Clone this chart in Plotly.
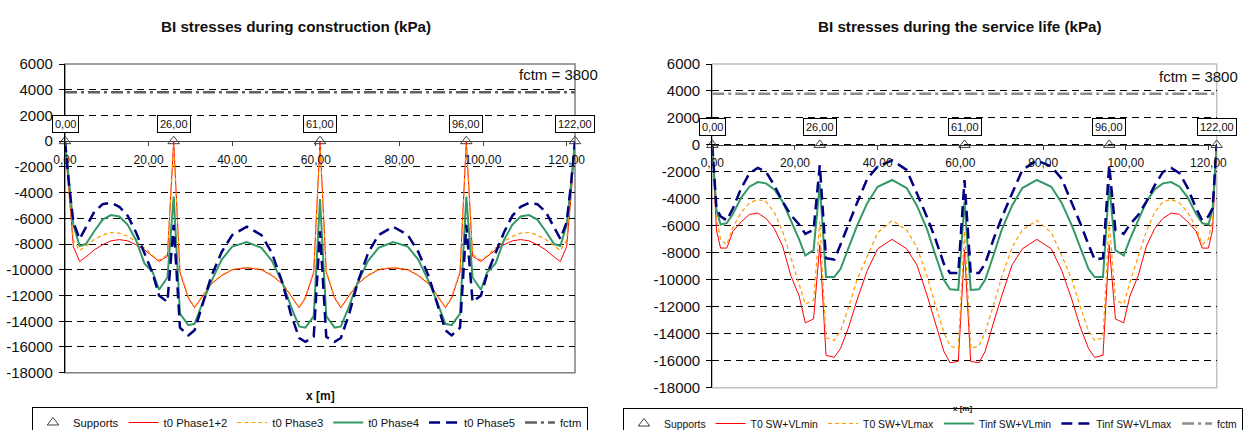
import plotly.graph_objects as go

# ---------------- data ----------------
# stations along the beam [m]
x_m = [0, 1, 2, 3.5, 5, 7, 9, 11, 13, 15, 17, 19, 21, 22.5, 24.5, 26,
       27.5, 29.5, 31, 33, 35, 37.5, 40, 43.5, 47, 49.5, 52, 54, 56, 57.5, 59.5, 61,
       62.5, 64.5, 66, 68, 70, 72.5, 75, 78.5, 82, 84.5, 87, 89, 91, 92.5, 94.5, 96,
       97.5, 99.5, 101, 103, 105, 107, 109, 111, 113, 115, 117, 118.5, 120, 121, 122]

# construction stage stresses [kPa]
t0_phase12 = [0, -4500, -8200, -9350, -9000, -8450, -8050, -7750, -7650, -7750, -8050, -8450, -8950, -9350, -8950, 0,
              -10200, -12200, -12950, -12000, -11100, -10450, -10000, -9850, -10000, -10450, -11100, -12000, -12950, -12200, -10200, 0,
              -10200, -12200, -12950, -12000, -11100, -10450, -10000, -9850, -10000, -10450, -11100, -12000, -12950, -12200, -10200, 0,
              -8950, -9350, -8950, -8450, -8050, -7750, -7650, -7750, -8050, -8450, -9000, -9350, -8200, -4500, 0]
t0_phase3 = [0, -4300, -7700, -8500, -8150, -7650, -7300, -7100, -7150, -7400, -7800, -8300, -8900, -9250, -8800, -300,
             -10100, -12100, -12900, -11950, -11050, -10400, -9950, -9800, -9950, -10400, -11050, -11950, -12900, -12100, -10100, -300,
             -10100, -12100, -12900, -11950, -11050, -10400, -9950, -9800, -9950, -10400, -11050, -11950, -12900, -12100, -10100, -300,
             -8800, -9250, -8900, -8300, -7800, -7400, -7150, -7100, -7300, -7650, -8150, -8500, -7700, -4300, 0]
t0_phase4 = [0, -3500, -6500, -8150, -8000, -7000, -6100, -5750, -5850, -6500, -7700, -9500, -10200, -11550, -10600, -4300,
             -13400, -14300, -14200, -12500, -10900, -9200, -8200, -7850, -8300, -9300, -11000, -12800, -14400, -14500, -13600, -4500,
             -13600, -14500, -14400, -12800, -11000, -9300, -8300, -7850, -8200, -9200, -10900, -12500, -14200, -14300, -13400, -4300,
             -10600, -11550, -10200, -9500, -7700, -6500, -5850, -5750, -6100, -7000, -8000, -8150, -6500, -3500, 0]
t0_phase5 = [0, -3500, -6300, -7600, -6700, -5500, -4900, -4800, -5100, -5800, -7100, -8700, -10300, -12000, -12500, -6500,
             -14500, -15100, -14700, -12600, -10500, -8600, -7300, -6650, -7300, -8700, -11000, -13400, -15300, -15600, -15200, -7000,
             -15200, -15600, -15300, -13400, -11000, -8700, -7300, -6650, -7300, -8600, -10500, -12600, -14700, -15100, -14500, -6500,
             -12500, -12000, -10300, -8700, -7100, -5800, -5100, -4800, -4900, -5500, -6700, -7600, -6300, -3500, 0]

# service life stresses [kPa]
T0_min = [0, -6300, -7650, -7650, -6400, -5700, -5150, -5050, -5450, -6200, -7500, -9700, -11200, -13200, -12900, -7400,
          -15600, -15750, -15100, -13500, -11500, -9300, -7700, -7000, -7700, -8900, -11200, -13200, -15300, -16150, -16050, -7800,
          -16050, -16150, -15300, -13200, -11200, -8900, -7700, -7000, -7700, -9300, -11500, -13500, -15100, -15750, -15600, -7400,
          -12900, -13200, -11200, -9700, -7500, -6200, -5450, -5050, -5150, -5700, -6400, -7650, -7650, -6300, 0]
T0_max = [0, -5500, -7000, -7400, -6100, -5000, -4300, -4050, -4200, -5000, -6400, -8300, -10200, -11800, -11500, -5700,
          -14300, -14500, -13800, -12000, -10000, -8200, -6500, -5600, -6300, -7600, -9800, -11900, -13900, -14900, -15100, -6400,
          -15100, -14900, -13900, -11900, -9800, -7600, -6300, -5600, -6500, -8200, -10000, -12000, -13800, -14500, -14300, -5700,
          -11500, -11800, -10200, -8300, -6400, -5000, -4200, -4050, -4300, -5000, -6100, -7400, -7000, -5500, 0]
Tinf_min = [0, -4800, -5900, -5800, -5100, -3900, -3100, -2750, -2850, -3300, -4200, -5600, -7000, -8200, -7800, -2900,
            -9800, -9800, -9200, -7600, -6000, -4300, -3100, -2600, -3200, -4500, -6300, -8200, -10000, -10700, -10750, -4200,
            -10750, -10700, -10000, -8200, -6300, -4500, -3200, -2600, -3100, -4300, -6000, -7600, -9200, -9800, -9800, -2900,
            -7800, -8200, -7000, -5600, -4200, -3300, -2850, -2750, -3100, -3900, -5100, -5800, -5900, -4800, 0]
Tinf_max = [0, -4700, -5300, -5600, -4700, -3200, -2100, -1700, -2000, -3000, -4200, -5200, -5900, -6600, -6300, -1500,
            -8400, -8500, -7400, -5800, -4300, -2500, -1600, -1150, -1850, -3600, -5400, -7000, -8800, -9500, -9500, -2600,
            -9500, -9500, -8800, -7000, -5400, -3600, -1850, -1150, -1600, -2500, -4300, -5800, -7400, -8500, -8400, -1500,
            -6300, -6600, -5900, -5200, -4200, -3000, -2000, -1700, -2100, -3200, -4700, -5600, -5300, -4700, 0]

supports_x = [0, 26, 61, 96, 122]
supports_y = [0, 0, 0, 0, 0]
supports_lbl = ["0,00", "26,00", "61,00", "96,00", "122,00"]
fctm = 3800

x_tickvals = [0, 20, 40, 60, 80, 100, 120]
x_ticktext = ["0,00", "20,00", "40,00", "60,00", "80,00", "100,00", "120,00"]
y_tickvals = [6000, 4000, 2000, 0, -2000, -4000, -6000, -8000, -10000, -12000, -14000, -16000, -18000]
y_ticktext = ["6000", "4000", "2000", "0", "-2000", "-4000", "-6000", "-8000", "-10000",
              "-12000", "-14000", "-16000", "-18000"]

titles = ["BI stresses during construction (kPa)", "BI stresses during the service life (kPa)"]
names_left = ["t0 Phase1+2", "t0 Phase3", "t0 Phase4", "t0 Phase5"]
names_right = ["T0 SW+VLmin", "T0 SW+VLmax", "Tinf SW+VLmin", "Tinf SW+VLmax"]

# ---------------- layout helpers ----------------
W, H = 1247, 430
FONT = "Liberation Sans, Arial, Helvetica, sans-serif"
Y_RANGE = [-18000, 6000]
X_RANGE = [0, 122]

styles = [
    dict(color="#FF0000", width=1),
    dict(color="#FF9900", width=1.2, dash="4px,3px"),
    dict(color="#339966", width=2),
    dict(color="#000080", width=2.5, dash="11px,6px"),
]

fig = go.Figure()

charts = [
    dict(xa="x", ya="y", leg="legend", names=names_left,
         data=[t0_phase12, t0_phase3, t0_phase4, t0_phase5],
         xdom=[65, 575], ydom=[64, 372.7], fctm_col="#606060", frame="#808080",
         title_xy=(296, 26), title_size=15.2, xt_xy=(320, 396), xt_size=12,
         leg_x=32, leg_y=407, leg_size=11.3,
         fctm_txt=(600, 75), box_shift=17),
    dict(xa="x2", ya="y2", leg="legend2", names=names_right,
         data=[T0_min, T0_max, Tinf_min, Tinf_max],
         xdom=[712.3, 1216.7], ydom=[64, 387.7], fctm_col="#8C8C8C", frame="#C0C0C0",
         title_xy=(960, 27), title_size=15.2, xt_xy=(963, 408), xt_size=8,
         leg_x=623, leg_y=408, leg_size=10.4,
         fctm_txt=(1240, 77), box_shift=18),
]

annotations = []
shapes = []
for i, c in enumerate(charts):
    sfx = "" if i == 0 else str(i + 1)
    # supports
    fig.add_trace(go.Scatter(
        x=supports_x, y=supports_y, mode="markers", name="Supports",
        marker=dict(symbol="triangle-up-open", size=10, color="#404040", line=dict(width=1)),
        xaxis=c["xa"], yaxis=c["ya"], legend=c["leg"], cliponaxis=False))
    for name, vals, st in zip(c["names"], c["data"], styles):
        fig.add_trace(go.Scatter(
            x=x_m, y=vals, mode="lines", name=name, line=st,
            xaxis=c["xa"], yaxis=c["ya"], legend=c["leg"]))
    fig.add_trace(go.Scatter(
        x=[x_m[0], x_m[-1]], y=[fctm, fctm], mode="lines", name="fctm",
        line=dict(color=c["fctm_col"], width=2.5, dash="12px,4px,3px,4px"),
        xaxis=c["xa"], yaxis=c["ya"], legend=c["leg"]))

    xd = [c["xdom"][0] / W, c["xdom"][1] / W]
    yd = [1 - c["ydom"][1] / H, 1 - c["ydom"][0] / H]
    zero_pos = yd[0] + (0 - Y_RANGE[0]) / (Y_RANGE[1] - Y_RANGE[0]) * (yd[1] - yd[0])

    fig.layout["xaxis" + sfx] = dict(
        domain=xd, range=X_RANGE, anchor="free", position=zero_pos,
        showline=True, linecolor="#404040", linewidth=1.2,
        ticks="outside", ticklen=4, tickcolor="#404040",
        tickvals=x_tickvals, ticktext=x_ticktext, ticklabelstandoff=3,
        tickfont=dict(size=12, color="#111"), showgrid=False, zeroline=False)
    fig.layout["yaxis" + sfx] = dict(
        domain=yd, range=Y_RANGE, anchor=c["xa"],
        showline=True, linecolor="#000", linewidth=1.2,
        ticks="outside", ticklen=5, tickcolor="#000",
        tickvals=y_tickvals, ticktext=y_ticktext, ticklabelstandoff=3,
        tickfont=dict(size=15, color="#111"),
        showgrid=True, gridcolor="#000", gridwidth=1, griddash="7px,5px", zeroline=False)

    shapes.append(dict(type="rect", xref=c["xa"] + " domain", yref=c["ya"] + " domain",
                       x0=0, x1=1, y0=0, y1=1, line=dict(color=c["frame"], width=1.5), layer="below"))

    for sx, lbl in zip(supports_x, supports_lbl):
        annotations.append(dict(x=sx, y=0, xref=c["xa"], yref=c["ya"], text=lbl, showarrow=False,
                                yshift=c["box_shift"], bordercolor="#000", borderwidth=1, borderpad=2,
                                bgcolor="white", font=dict(size=11, color="#111")))
    annotations.append(dict(x=c["fctm_txt"][0] / W, y=1 - c["fctm_txt"][1] / H, xref="paper", yref="paper",
                            xanchor="right", yanchor="middle", showarrow=False,
                            text=f"fctm = {fctm}", font=dict(size=15, color="#111")))
    annotations.append(dict(x=c["title_xy"][0] / W, y=1 - c["title_xy"][1] / H, xref="paper", yref="paper",
                            xanchor="center", yanchor="middle", showarrow=False,
                            text="<b>" + titles[i] + "</b>", font=dict(size=c["title_size"], color="#111")))
    annotations.append(dict(x=c["xt_xy"][0] / W, y=1 - c["xt_xy"][1] / H, xref="paper", yref="paper",
                            xanchor="center", yanchor="middle", showarrow=False,
                            text="<b>x [m]</b>", font=dict(size=c["xt_size"], color="#111")))
    fig.layout[c["leg"]] = dict(
        orientation="h", x=c["leg_x"] / W, xanchor="left", y=1 - c["leg_y"] / H, yanchor="top",
        bordercolor="#000", borderwidth=1, bgcolor="white",
        font=dict(size=c["leg_size"], color="#111"), traceorder="normal")

fig.update_layout(
    width=W, height=H, autosize=False,
    margin=dict(l=0, r=0, t=0, b=0, autoexpand=False),
    paper_bgcolor="white", plot_bgcolor="white",
    font=dict(family=FONT, color="#111"),
    annotations=annotations, shapes=shapes, showlegend=True,
)

fig.write_html("out.html")
